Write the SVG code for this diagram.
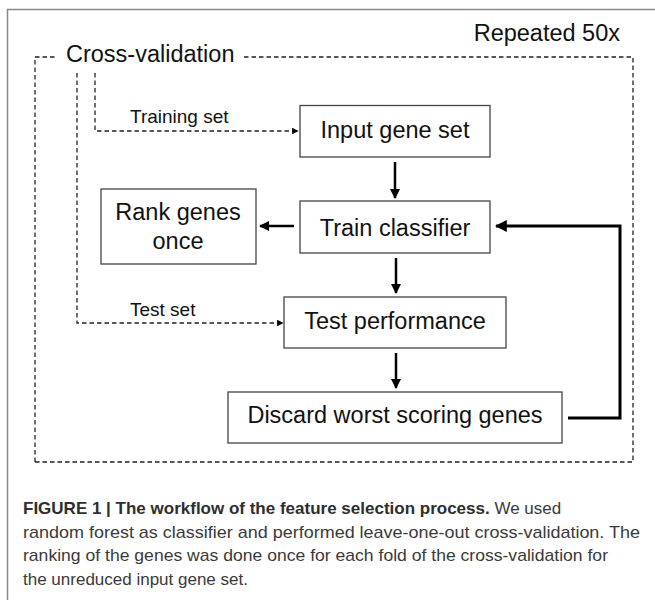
<svg xmlns="http://www.w3.org/2000/svg" width="655" height="600" viewBox="0 0 655 600">
<style>
.frame{fill:none;stroke:#8a8a8a;stroke-width:1.5}
.dash{fill:none;stroke:#222;stroke-width:1.3;stroke-dasharray:4.5 3}
.box{fill:#fff;stroke:#444;stroke-width:1.3}
.t{font-family:"Liberation Sans",Arial,sans-serif;font-size:23.5px;fill:#111}
.lbl{font-family:"Liberation Sans",Arial,sans-serif;font-size:19px;fill:#111}
.arr{fill:none;stroke:#000;stroke-width:2.5}
.fb{fill:none;stroke:#000;stroke-width:3}
.cap{font-family:"Liberation Sans",Arial,sans-serif;font-size:17px;fill:#3a3a3a}
</style>
<defs>
<marker id="ah" viewBox="0 0 10 10" refX="9" refY="5" markerWidth="4" markerHeight="4" orient="auto"><path d="M0,0 L10,5 L0,10 z" fill="#000"/></marker>
<marker id="ahs" viewBox="0 0 10 10" refX="9" refY="5" markerWidth="5" markerHeight="5" orient="auto"><path d="M0,0 L10,5 L0,10 z" fill="#000"/></marker>
</defs>
<path class="frame" d="M7.5,600 V9.5 H655"/>
<g id="repeat-frame">
<text class="t" x="620" y="41" text-anchor="end">Repeated 50x</text>
</g>
<g id="cross-validation">
<path class="dash" d="M35,462 V57 H55 M244,57 H633 V462 H35"/>
<text class="t" x="66" y="62">Cross-validation</text>
</g>
<g id="connectors">
<path class="dash" d="M95,73 V131 H298" marker-end="url(#ahs)"/>
<path class="dash" d="M77,73 V323 H283" marker-end="url(#ahs)"/>
<text class="lbl" x="130" y="123" font-size="19.5">Training set</text>
<text class="lbl" x="130" y="316">Test set</text>
<path class="arr" d="M395,162 V198" marker-end="url(#ah)"/>
<path class="arr" d="M294,226 H260" marker-end="url(#ah)"/>
<path class="arr" d="M396,258 V293" marker-end="url(#ah)"/>
<path class="arr" d="M396,353 V388" marker-end="url(#ah)"/>
<path class="fb" d="M568,418 H620 V226 H496" marker-end="url(#ah)"/>
</g>
<g id="input-gene-set">
<rect class="box" x="300" y="105.5" width="190" height="51.5"/>
<text class="t" x="395" y="138" text-anchor="middle">Input gene set</text>
</g>
<g id="train-classifier">
<rect class="box" x="300" y="201" width="190" height="52"/>
<text class="t" x="395" y="236" text-anchor="middle">Train classifier</text>
</g>
<g id="rank-genes-once">
<rect class="box" x="101" y="189" width="155" height="75"/>
<text class="t" x="178" y="220" text-anchor="middle">Rank genes</text>
<text class="t" x="178" y="249" text-anchor="middle">once</text>
</g>
<g id="test-performance">
<rect class="box" x="284" y="297" width="222" height="51"/>
<text class="t" x="395" y="329" text-anchor="middle">Test performance</text>
</g>
<g id="discard-worst">
<rect class="box" x="228" y="392" width="334" height="51"/>
<text class="t" x="395" y="423" text-anchor="middle">Discard worst scoring genes</text>
</g>
<g id="caption">
<text class="cap" x="23" y="514"><tspan font-weight="bold" fill="#2e2e2e">FIGURE 1 | The workflow of the feature selection process.</tspan> We used</text>
<text class="cap" x="23" y="537.5" textLength="617" lengthAdjust="spacingAndGlyphs">random forest as classifier and performed leave-one-out cross-validation. The</text>
<text class="cap" x="23" y="561" textLength="585" lengthAdjust="spacingAndGlyphs">ranking of the genes was done once for each fold of the cross-validation for</text>
<text class="cap" x="23" y="584.5">the unreduced input gene set.</text>
</g>
</svg>
